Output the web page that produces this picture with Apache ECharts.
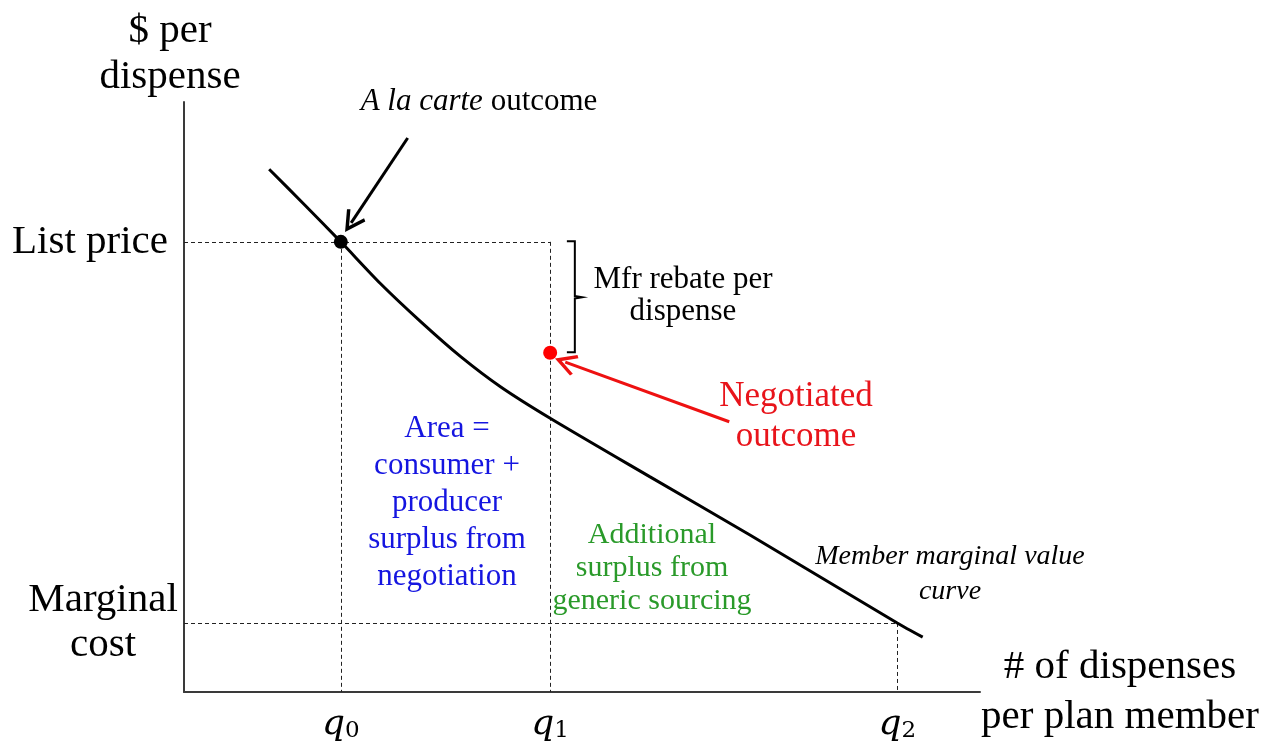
<!DOCTYPE html>
<html>
<head>
<meta charset="utf-8">
<script src="https://cdn.jsdelivr.net/npm/echarts@6/dist/echarts.min.js"></script>
<style>
  html, body { margin: 0; padding: 0; background: #fff; }
  #chart { width: 1266px; height: 749px; }
</style>
</head>
<body>
<div id="chart"></div>
<script>
const serif = '"Liberation Serif", "Times New Roman", serif';

// quantities and prices, in axis units (both axes run 0-100)
const Q0 = 19.7, Q1 = 46.0, Q2 = 89.6;
const LIST_PRICE = 76.3, MARGINAL_COST = 11.7;

const xTicks = [Q0, Q1, Q2];
const xTickSubs = ['0', '1', '2'];
const yTicks = [MARGINAL_COST, LIST_PRICE];
const yTickLabels = ['Marginal\ncost', 'List price'];

// member marginal value curve
const curveX = [10.7, 15.2, 19.7, 24.7, 29.8, 34.8, 39.8, 46.0, 58.5, 71.1, 89.6, 92.8];
const curveY = [88.6, 82.5, 76.3, 69.2, 62.7, 56.8, 51.7, 46.4, 36.5, 26.6, 11.7, 9.3];

const alaCarte = [Q0, LIST_PRICE];
const negotiated = [Q1, 57.5];

// annotations (start -> arrow head centre)
const blackArrow = [[28.1, 93.9], [21.0, 79.5]];
const redArrow = [[68.5, 45.8], [47.9, 55.9]];
const bracket = [[48.1, 76.4], [49.1, 76.4], [49.1, 67.1], [50.0, 66.9], [49.1, 66.7], [49.1, 57.6], [48.1, 57.6]];

const guides = [
  [[0, LIST_PRICE], [Q1, LIST_PRICE]],
  [[Q0, LIST_PRICE], [Q0, 0]],
  [[Q1, LIST_PRICE], [Q1, 0]],
  [[0, MARGINAL_COST], [Q2, MARGINAL_COST]],
  [[Q2, MARGINAL_COST], [Q2, 0]]
];

// open arrow head
const chevron = 'path://M0,10 L7,0 L14,10 L12.2,11 L7,3.6 L1.8,11 Z';

const chart = echarts.init(document.getElementById('chart'));

const option = {
  animation: false,
  grid: { left: 184, top: 102, width: 796, height: 590 },
  xAxis: {
    type: 'value', min: 0, max: 100,
    splitLine: { show: false },
    axisTick: { show: false },
    axisLine: { onZero: false, lineStyle: { color: '#3a3a3a', width: 2 } },
    axisLabel: {
      customValues: xTicks,
      margin: 11,
      formatter: v => '{q|q}{s|' + xTickSubs[xTicks.indexOf(v)] + '}',
      rich: {
        q: { fontFamily: '"DejaVu Serif", serif', fontStyle: 'italic', fontSize: 36, color: '#000', lineHeight: 40, verticalAlign: 'bottom' },
        s: { fontFamily: '"DejaVu Serif", serif', fontSize: 23, color: '#000', lineHeight: 28, verticalAlign: 'bottom' }
      }
    },
    name: '{a|# of dispenses}\n{a|per plan member}',
    nameLocation: 'end',
    nameGap: 0,
    nameTextStyle: {
      rich: { a: { width: 280, align: 'center', fontFamily: serif, fontSize: 41, lineHeight: 50, color: '#000' } }
    }
  },
  yAxis: {
    type: 'value', min: 0, max: 100,
    splitLine: { show: false },
    axisTick: { show: false },
    axisLine: { onZero: false, lineStyle: { color: '#3a3a3a', width: 2 } },
    axisLabel: {
      customValues: yTicks,
      margin: 4,
      formatter: v => {
        const t = yTickLabels[yTicks.indexOf(v)];
        return t.indexOf('\n') >= 0
          ? t.split('\n').map(s => '{mc|' + s + '}').join('\n')
          : '{lp|' + t + '}';
      },
      rich: {
        mc: { width: 154, align: 'center', fontFamily: serif, fontSize: 41, lineHeight: 45, color: '#000' },
        lp: { fontFamily: serif, fontSize: 41, color: '#000', padding: [0, 12, 0, 0] }
      }
    },
    name: '$ per\ndispense',
    nameLocation: 'end',
    nameGap: 2,
    nameTextStyle: { fontFamily: serif, fontSize: 41, lineHeight: 46, color: '#000', padding: [0, 28, 0, 0] }
  },
  series: [
    {
      type: 'lines', coordinateSystem: 'cartesian2d', polyline: false, silent: true,
      lineStyle: { color: '#222', width: 1, type: [4, 3], opacity: 1 },
      data: guides.map(c => ({ coords: c }))
    },
    {
      type: 'line', name: 'Member marginal value curve',
      data: curveX.map((x, i) => [x, curveY[i]]),
      showSymbol: false, smooth: 0.25,
      lineStyle: { color: '#000', width: 3 }
    },
    {
      type: 'lines', coordinateSystem: 'cartesian2d', polyline: true, silent: true,
      lineStyle: { color: '#000', width: 2, opacity: 1 },
      data: [{ coords: bracket }]
    },
    {
      type: 'lines', coordinateSystem: 'cartesian2d', silent: true,
      symbol: ['none', chevron], symbolSize: 22, symbolKeepAspect: true,
      data: [
        { coords: blackArrow, lineStyle: { color: '#000', width: 3, opacity: 1 } },
        { coords: redArrow, lineStyle: { color: '#ee1111', width: 3, opacity: 1 } }
      ]
    },
    {
      type: 'scatter', symbolSize: 14, itemStyle: { color: '#000', opacity: 1 }, data: [alaCarte], z: 5
    },
    {
      type: 'scatter', symbolSize: 14, itemStyle: { color: '#f00', opacity: 1 }, data: [negotiated], z: 5
    }
  ],
  graphic: [
    {
      type: 'text', x: 479, y: 102,
      style: {
        text: '{i|A la carte} outcome', fontFamily: serif, fontSize: 31, fill: '#000',
        textAlign: 'center', align: 'center', textVerticalAlign: 'middle', verticalAlign: 'middle',
        rich: { i: { fontFamily: serif, fontSize: 31, fontStyle: 'italic', fill: '#000' } }
      }
    },
    {
      type: 'text', x: 683, y: 296,
      style: {
        text: 'Mfr rebate per\ndispense', fontFamily: serif, fontSize: 31, lineHeight: 32, fill: '#000',
        textAlign: 'center', align: 'center', textVerticalAlign: 'middle', verticalAlign: 'middle'
      }
    },
    {
      type: 'text', x: 796, y: 417,
      style: {
        text: 'Negotiated\noutcome', fontFamily: serif, fontSize: 35, lineHeight: 40, fill: '#e8141b',
        textAlign: 'center', align: 'center', textVerticalAlign: 'middle', verticalAlign: 'middle'
      }
    },
    {
      type: 'text', x: 447, y: 503,
      style: {
        text: 'Area =\nconsumer +\nproducer\nsurplus from\nnegotiation', fontFamily: serif, fontSize: 31, lineHeight: 37, fill: '#1515e0',
        textAlign: 'center', align: 'center', textVerticalAlign: 'middle', verticalAlign: 'middle'
      }
    },
    {
      type: 'text', x: 652, y: 568,
      style: {
        text: 'Additional\nsurplus from\ngeneric sourcing', fontFamily: serif, fontSize: 30, lineHeight: 33, fill: '#2a9a2a',
        textAlign: 'center', align: 'center', textVerticalAlign: 'middle', verticalAlign: 'middle'
      }
    },
    {
      type: 'text', x: 950, y: 574,
      style: {
        text: 'Member marginal value\ncurve', fontFamily: serif, fontSize: 28, fontStyle: 'italic', lineHeight: 35, fill: '#000',
        textAlign: 'center', align: 'center', textVerticalAlign: 'middle', verticalAlign: 'middle'
      }
    }
  ]
};

chart.setOption(option);
</script>
</body>
</html>
